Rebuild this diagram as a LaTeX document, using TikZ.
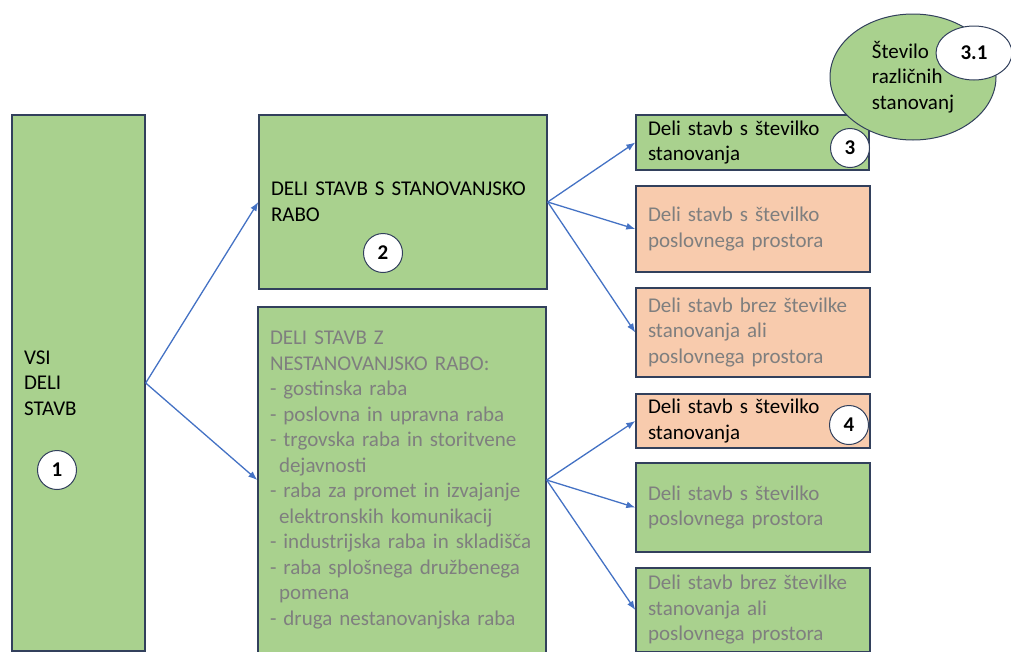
\documentclass[tikz,border=0pt]{standalone}
\usepackage{fontspec}
\setmainfont{Carlito}
\usetikzlibrary{arrows.meta,shapes.geometric}
\definecolor{boxgreen}{RGB}{169,209,142}
\definecolor{boxorange}{RGB}{248,203,173}
\definecolor{edgeblue}{RGB}{50,64,92}
\definecolor{arrowblue}{RGB}{68,114,196}
\definecolor{textgray}{RGB}{127,127,127}

\begin{document}
\begin{tikzpicture}[x=1pt, y=-1pt,
  font=\fontsize{21}{25.5}\selectfont,
  part/.style={draw=edgeblue, line width=1.4pt, align=left, inner xsep=12pt, inner ysep=0pt},
  greenpart/.style={part, fill=boxgreen},
  orangepart/.style={part, fill=boxorange},
  dim/.style={text=textgray},
  num/.style={circle, draw=edgeblue, fill=white, line width=1pt, minimum size=39pt, inner sep=0pt, font=\fontsize{21}{24}\selectfont\bfseries},
  link/.style={arrowblue, line width=1.3pt, -{Latex[length=9pt,width=7pt]}}]
\clip (0,0) rectangle (1011,651);
\useasboundingbox (0,0) rectangle (1011,651);

% Left column
\node[greenpart, text width=109pt, minimum height=536pt] (all) at (78.5,383) {VSI\\DELI\\STAVB};

% Middle column
\node[greenpart, text width=264pt, minimum height=174pt] (res) at (403,202) {DELI STAVB S STANOVANJSKO\\RABO};
\node[greenpart, dim, text width=264pt, minimum height=346pt] (nonres) at (402,480) {DELI STAVB Z\\NESTANOVANJSKO RABO:\\- gostinska raba\\- poslovna in upravna raba\\- trgovska raba in storitvene\\\hspace*{9pt}dejavnosti\\- raba za promet in izvajanje\\\hspace*{9pt}elektronskih komunikacij\\- industrijska raba in skladišča\\- raba splošnega družbenega\\\hspace*{9pt}pomena\\- druga nestanovanjska raba};

% Right column
\node[greenpart, text width=209pt, minimum height=55pt] (ra) at (752.5,142.5) {Deli stavb s številko\\stanovanja};
\node[orangepart, dim, text width=210pt, minimum height=86pt] (rb) at (753,229) {Deli stavb s številko\\poslovnega prostora};
\node[orangepart, dim, text width=210pt, minimum height=89pt] (rc) at (753,332.5) {Deli stavb brez številke\\stanovanja ali\\poslovnega prostora};
\node[orangepart, text width=210pt, minimum height=54pt] (na) at (753,421) {Deli stavb s številko\\stanovanja};
\node[greenpart, dim, text width=210pt, minimum height=89pt] (nb) at (753,507.5) {Deli stavb s številko\\poslovnega prostora};
\node[greenpart, dim, text width=210pt, minimum height=84pt] (nc) at (753,610) {Deli stavb brez številke\\stanovanja ali\\poslovnega prostora};

% Dwelling count
\node[ellipse, draw=edgeblue, fill=boxgreen, line width=1pt, minimum width=166pt, minimum height=126pt, inner sep=0pt, align=left] (count) at (913,77) {Število\\različnih\\stanovanj};
\node[ellipse, draw=edgeblue, fill=white, line width=1pt, minimum width=76pt, minimum height=54pt, inner sep=0pt, font=\fontsize{21}{24}\selectfont\bfseries] (countnum) at (974,53) {3.1};

% Numbers
\node[num] (n1) at (57,470) {1};
\node[num] (n2) at (383,253) {2};
\node[num] (n3) at (850,148) {3};
\node[num] (n4) at (849,425) {4};

% Arrows
\draw[link] (all.east) -- (res.west);
\draw[link] (all.east) -- (nonres.west);
\foreach \t in {ra,rb,rc} \draw[link] (res.east) -- (\t.west);
\foreach \t in {na,nb,nc} \draw[link] (nonres.east) -- (\t.west);
\end{tikzpicture}
\end{document}
